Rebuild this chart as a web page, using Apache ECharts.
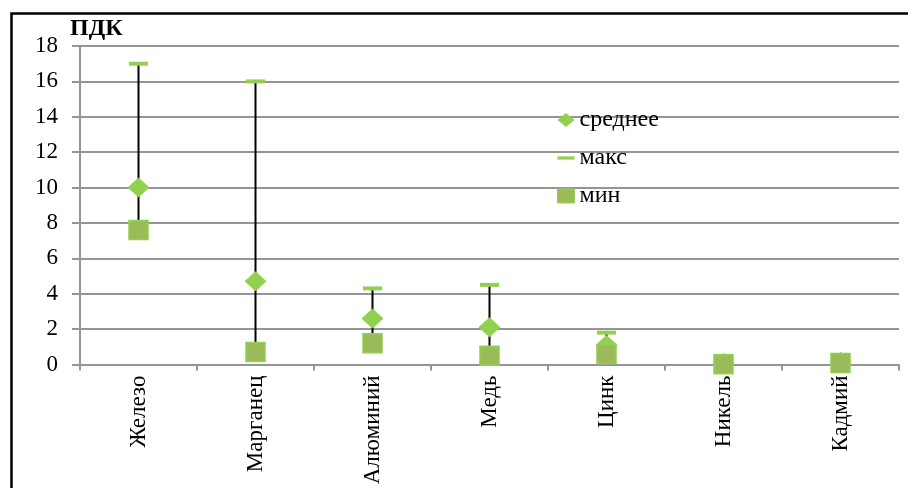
<!DOCTYPE html>
<html>
<head>
<meta charset="utf-8">
<script src="https://cdn.jsdelivr.net/npm/echarts@6/dist/echarts.min.js"></script>
<style>
  html, body { margin: 0; padding: 0; background: #fff; }
  #chart { width: 908px; height: 488px; }
</style>
</head>
<body>
<div id="chart"></div>
<script>
// Heavy metal concentrations in multiples of the limit value (ПДК)
const categories = ['Железо', 'Марганец', 'Алюминий', 'Медь', 'Цинк', 'Никель', 'Кадмий'];
const meanValues = [10, 4.7, 2.6, 2.1, 1.1, 0.1, 0.15];
const maxValues  = [17, 16, 4.3, 4.5, 1.8, 0.1, 0.2];
const minValues  = [7.6, 0.7, 1.2, 0.5, 0.6, 0.02, 0.08];
const yTicks = { min: 0, max: 18, interval: 2 };

const FONT = '"Liberation Serif", "Times New Roman", serif';
const GREEN = '#92D050';
const OLIVE = '#9BBB59';
const GRID_GREY = '#959595';

const chart = echarts.init(document.getElementById('chart'), null, { renderer: 'canvas' });

// Min–max range as [index, min, max] rows for the whisker lines
const rangeRows = categories.map((c, i) => [i, minValues[i], maxValues[i]]);

chart.setOption({
  animation: false,
  backgroundColor: '#fff',
  textStyle: { fontFamily: FONT },
  graphic: [{
    type: 'rect',
    left: 9, top: 11,
    shape: { width: 1000, height: 1000 },
    style: { fill: 'none', stroke: '#000', lineWidth: 2.5 },
    silent: true, z: 100
  }, {
    type: 'text',
    left: 70, top: 17,
    style: { text: 'ПДК', font: 'bold 24px ' + FONT, fill: '#000' }
  }],
  grid: { left: 80, right: 9, top: 46, bottom: 123.5, containLabel: false },
  legend: {
    orient: 'vertical',
    left: 552, top: 100,
    itemWidth: 17, itemHeight: 14,
    itemGap: 8,
    textStyle: { fontFamily: FONT, fontSize: 24, color: '#000', padding: [6, 0, 0, 0], lineHeight: 24 },
    data: [
      { name: 'среднее', icon: 'diamond', itemStyle: { color: GREEN } },
      { name: 'макс', icon: 'path://M0,0H16V3H0Z', itemStyle: { color: GREEN } },
      { name: 'мин', icon: 'rect', itemStyle: { color: OLIVE, borderColor: GREEN, borderWidth: 1 } }
    ]
  },
  xAxis: {
    type: 'category',
    data: categories,
    boundaryGap: true,
    axisLine: { lineStyle: { color: GRID_GREY, width: 2 } },
    axisTick: { show: true, length: 6, lineStyle: { color: GRID_GREY, width: 2 } },
    axisLabel: { rotate: 90, margin: 11, fontFamily: FONT, fontSize: 23, color: '#000' },
    splitLine: { show: false }
  },
  yAxis: {
    type: 'value',
    min: yTicks.min, max: yTicks.max, interval: yTicks.interval,
    axisLine: { show: true, lineStyle: { color: GRID_GREY, width: 2 } },
    axisTick: { show: true, length: 8, lineStyle: { color: GRID_GREY, width: 2 } },
    axisLabel: { margin: 22, fontFamily: FONT, fontSize: 23, color: '#000' },
    splitLine: { show: true, lineStyle: { color: GRID_GREY, width: 2 } }
  },
  series: [
    {
      name: 'range',
      type: 'custom',
      data: rangeRows,
      encode: { x: 0, y: [1, 2] },
      z: 2,
      renderItem: function (params, api) {
        const lo = api.coord([api.value(0), api.value(1)]);
        const hi = api.coord([api.value(0), api.value(2)]);
        return {
          type: 'line',
          shape: { x1: lo[0], y1: lo[1], x2: hi[0], y2: hi[1] },
          style: { stroke: '#000', lineWidth: 2 }
        };
      }
    },
    {
      name: 'макс',
      type: 'scatter',
      data: maxValues,
      symbol: 'rect',
      symbolSize: [19, 4],
      itemStyle: { color: GREEN, opacity: 1 },
      z: 3
    },
    {
      name: 'среднее',
      type: 'scatter',
      data: meanValues,
      symbol: 'diamond',
      symbolSize: [22, 20],
      itemStyle: { color: GREEN, opacity: 1 },
      z: 4
    },
    {
      name: 'мин',
      type: 'scatter',
      data: minValues,
      symbol: 'rect',
      symbolSize: 19,
      itemStyle: { color: OLIVE, borderColor: GREEN, borderWidth: 1.5, opacity: 1 },
      z: 5
    }
  ]
});
</script>
</body>
</html>
